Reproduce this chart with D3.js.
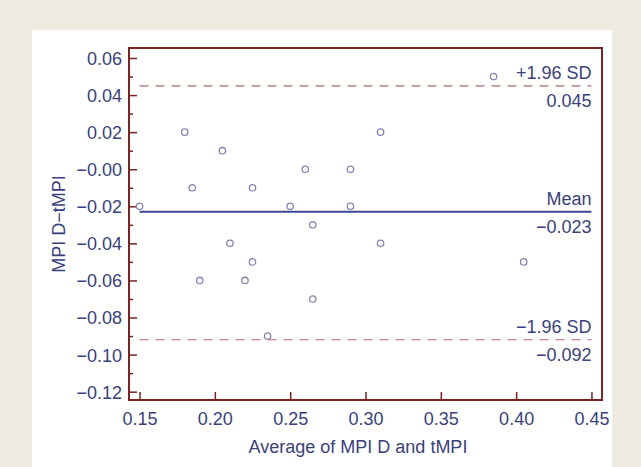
<!DOCTYPE html>
<html>
<head>
<meta charset="utf-8">
<script src="https://cdn.jsdelivr.net/npm/d3@7"></script>
<style>
  body { margin: 0; background: #eeebe2; }
  text { font-family: "Liberation Sans", Arial, sans-serif; }
</style>
</head>
<body>
<script>
// data (Bland-Altman plot)
const avgVals  = [0.15, 0.18, 0.185, 0.19, 0.205, 0.21, 0.22, 0.225, 0.225, 0.235,
                  0.25, 0.26, 0.265, 0.265, 0.29, 0.29, 0.31, 0.31, 0.385, 0.405];
const diffVals = [-0.02, 0.02, -0.01, -0.06, 0.01, -0.04, -0.06, -0.01, -0.05, -0.09,
                  -0.02, 0.00, -0.03, -0.07, 0.00, -0.02, 0.02, -0.04, 0.05, -0.05];

const refValues = [0.045, -0.023, -0.092];
const refTop    = ["+1.96 SD", "Mean", "\u22121.96 SD"];
const refBottom = ["0.045", "\u22120.023", "\u22120.092"];

const xTicks = [0.15, 0.20, 0.25, 0.30, 0.35, 0.40, 0.45];
const xTickLabels = ["0.15", "0.20", "0.25", "0.30", "0.35", "0.40", "0.45"];
const yTicks = [0.06, 0.04, 0.02, 0.00, -0.02, -0.04, -0.06, -0.08, -0.10, -0.12];
const yTickLabels = ["0.06", "0.04", "0.02", "\u22120.00", "\u22120.02", "\u22120.04",
                     "\u22120.06", "\u22120.08", "\u22120.10", "\u22120.12"];
const yMinor = [0.05, 0.03, 0.01, -0.01, -0.03, -0.05, -0.07, -0.09, -0.11];

const W = 641, H = 467;
const plotL = 129, plotR = 602, plotT = 48, plotB = 400;
const ink = "#3a3f7d", frame = "#7a2222", fs = "18px";

let svg = d3.select("body").append("svg")
  .attr("width", W)
  .attr("height", H);

// beige frame + white panel
svg.append("rect").attr("width", W).attr("height", H).attr("fill", "#eeebe2");
svg.append("rect").attr("x", 32).attr("y", 30).attr("width", 580).attr("height", H - 30)
  .attr("fill", "#ffffff");

var x = d3.scaleLinear().domain([0.143, 0.457]).range([plotL, plotR]);
var y = d3.scaleLinear().domain([-0.1245, 0.0654]).range([plotB, plotT]);

// minor y ticks
svg.append("g")
  .attr("transform", "translate(" + plotL + ",0)")
  .call(d3.axisLeft(y).tickValues(yMinor).tickSize(-4).tickFormat(""))
  .call(g => g.select(".domain").remove())
  .selectAll("line").attr("stroke", frame).attr("stroke-width", 1.5);

// major y ticks
let yAxis = svg.append("g")
  .attr("transform", "translate(" + plotL + ",0)")
  .call(d3.axisLeft(y).tickValues(yTicks).tickSize(-8)
    .tickFormat((d, i) => yTickLabels[i]));
yAxis.select(".domain").remove();
yAxis.selectAll("line").attr("stroke", frame).attr("stroke-width", 1.5);
yAxis.selectAll("text").attr("fill", ink).style("font-size", fs)
  .attr("x", -7).attr("dy", "0.36em");

// x ticks
let xAxis = svg.append("g")
  .attr("transform", "translate(0," + plotB + ")")
  .call(d3.axisBottom(x).tickValues(xTicks).tickSize(-8)
    .tickFormat((d, i) => xTickLabels[i]));
xAxis.select(".domain").remove();
xAxis.selectAll("line").attr("stroke", frame).attr("stroke-width", 1.5);
xAxis.selectAll("text").attr("fill", ink).style("font-size", fs)
  .attr("y", 25).attr("dy", 0);

// plot frame
svg.append("rect")
  .attr("x", plotL).attr("y", plotT)
  .attr("width", plotR - plotL).attr("height", plotB - plotT)
  .attr("fill", "none")
  .attr("stroke", frame)
  .attr("stroke-width", 2);

// reference lines
svg.append("g")
  .selectAll("line")
  .data(refValues)
  .enter()
  .append("line")
  .attr("x1", x(0.15))
  .attr("x2", x(0.45))
  .attr("y1", d => y(d))
  .attr("y2", d => y(d))
  .attr("stroke", (d, i) => i == 1 ? "#3b4897" : "#b86a6a")
  .attr("stroke-width", (d, i) => i == 1 ? 2 : 1.2)
  .attr("stroke-dasharray", (d, i) => i == 1 ? null : "9,7");

svg.append("g")
  .selectAll("text")
  .data(refValues)
  .enter()
  .append("text")
  .attr("x", x(0.45))
  .attr("y", d => y(d) - 7)
  .attr("text-anchor", "end")
  .attr("fill", ink)
  .style("font-size", fs)
  .text((d, i) => refTop[i]);

svg.append("g")
  .selectAll("text")
  .data(refValues)
  .enter()
  .append("text")
  .attr("x", x(0.45))
  .attr("y", d => y(d) + 21)
  .attr("text-anchor", "end")
  .attr("fill", ink)
  .style("font-size", fs)
  .text((d, i) => refBottom[i]);

// points
svg.append("g")
  .selectAll("circle")
  .data(avgVals)
  .enter()
  .append("circle")
  .attr("cx", d => x(d))
  .attr("cy", (d, i) => y(diffVals[i]))
  .attr("r", 3.2)
  .attr("fill", "#ffffff")
  .attr("stroke", "#8584b0")
  .attr("stroke-width", 1.3);

// axis titles
svg.append("text")
  .attr("x", 358)
  .attr("y", 453)
  .attr("text-anchor", "middle")
  .attr("fill", ink)
  .style("font-size", fs)
  .text("Average of MPI D and tMPI");

svg.append("text")
  .attr("transform", "translate(65," + ((plotT + plotB) / 2) + ") rotate(-90)")
  .attr("text-anchor", "middle")
  .attr("fill", ink)
  .style("font-size", fs)
  .text("MPI D\u2212tMPI");
</script>
</body>
</html>
